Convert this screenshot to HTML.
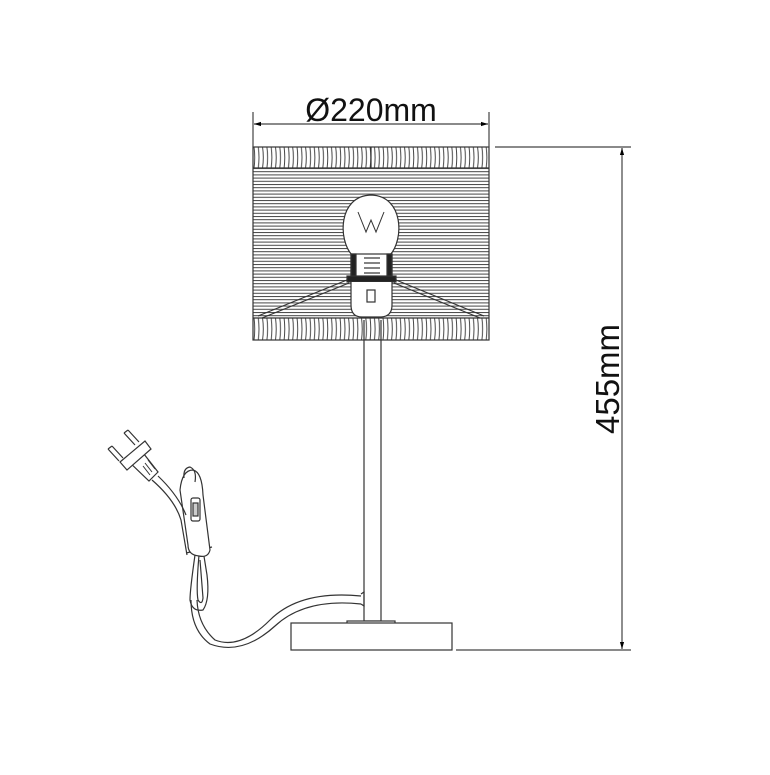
<!DOCTYPE html>
<html><head><style>html,body{margin:0;padding:0;background:#fff}</style></head>
<body>
<svg width="770" height="770" viewBox="0 0 770 770" xmlns="http://www.w3.org/2000/svg">
<defs>
<pattern id="hl" width="10" height="3.2" patternUnits="userSpaceOnUse" y="168"><line x1="0" y1="0.5" x2="10" y2="0.5" stroke="#444" stroke-width="1"/></pattern>
<pattern id="vl1" width="4.3" height="21" patternUnits="userSpaceOnUse" x="253" y="147"><path d="M1 0 Q2.4 10.5 1 21" stroke="#333" stroke-width="0.9" fill="none"/></pattern>
<pattern id="vl2" width="4.3" height="22" patternUnits="userSpaceOnUse" x="253" y="318"><path d="M1 0 Q2.4 11 1 22" stroke="#333" stroke-width="0.9" fill="none"/></pattern>
<marker id="ar" viewBox="0 0 10 10" refX="10" refY="5" markerWidth="14" markerHeight="7" orient="auto-start-reverse" markerUnits="userSpaceOnUse"><path d="M0 2 L10 5 L0 8 Z" fill="#000"/></marker>
</defs>
<g fill="none" stroke="#333" stroke-width="1.2">
<rect x="253" y="168" width="236" height="150" fill="url(#hl)" stroke="none"/>
<rect x="253" y="147" width="236" height="21" fill="url(#vl1)" stroke="none"/>
<rect x="253" y="318" width="236" height="22" fill="url(#vl2)" stroke="none"/>
<line x1="253" y1="168" x2="489" y2="168"/>
<line x1="253" y1="318" x2="489" y2="318"/>
<line x1="371" y1="147" x2="371" y2="168"/>
<rect x="253" y="147" width="236" height="193"/>
<path d="M352 255 C338 240 338 196 371 195 C404 196 404 240 390 255 Z" fill="#fff"/>
<path d="M358 212 L366 232 L371 220 L376 232 L384 212" stroke-width="1"/>
<rect x="351" y="254" width="41" height="24" fill="#fff"/>
<rect x="351" y="254" width="5" height="24" fill="#222"/>
<rect x="387" y="254" width="5" height="24" fill="#222"/>
<line x1="364" y1="258" x2="380" y2="258"/><line x1="364" y1="263" x2="380" y2="263"/><line x1="364" y1="268" x2="380" y2="268"/><line x1="364" y1="273" x2="380" y2="273"/>
<rect x="347" y="276" width="49" height="6" fill="#222"/>
<path d="M351 282 L351 305 Q351 317 362 317 L380 317 Q392 317 392 305 L392 282" fill="#fff"/>
<rect x="367" y="290" width="8" height="12"/>
<path d="M347 280 L258 316 M349 283 L262 318 M396 280 L484 316 M394 283 L480 318"/>
<rect x="364" y="340" width="17" height="281" fill="#fff"/>
<line x1="364" y1="340" x2="364" y2="320"/><line x1="381" y1="340" x2="381" y2="320"/>
<rect x="347" y="621" width="48" height="3" fill="#fff"/>
<rect x="291" y="623" width="161" height="27" fill="#fff"/>
<path d="M361 596 Q300 590 270 620 Q240 650 215 640 Q198 625 197 600" stroke-width="1.2"/>
<path d="M361 604 Q305 598 275 626 Q242 656 210 644 Q191 630 191 600"/>
<path d="M361 594 L364 592 L364 606 L361 604"/>
<path d="M195 555 Q190 590 190 600 Q192 612 203 610 Q210 600 207 575 L203 550"/>
<path d="M199 555 Q196 590 198 600 Q202 606 203 598 L200 560"/>
<path d="M186 553 L212 547"/>
<path d="M180 490 Q182 470 193 470 Q202 472 203 495 L210 550 Q208 558 199 556 Q188 555 188 545 Z" fill="#fff"/>
<path d="M184 478 Q183 468 190 467 Q197 470 195 482" />
<rect x="191" y="498" width="9" height="23" rx="2"/>
<rect x="193" y="503" width="5" height="13" fill="#ccc"/>
<path d="M152 480 Q175 500 181 520 L187 555"/>
<path d="M158 476 Q178 495 186 515"/>
<path d="M126 459 L140 449 L158 472 L149 481 Z" fill="#fff"/>
<path d="M120 462 L145 441 L151 449 L127 470 Z" fill="#fff"/>
<path d="M108 449 L119 461 M112 446 L123 458 M108 449 L112 446"/>
<path d="M124 433 L135 445 M128 430 L139 442 M124 433 L128 430"/>
<path d="M145 463 L152 472 M148 460 L155 469 M143 466 L150 475" stroke-width="1"/>
</g>
<g stroke="#444" stroke-width="1.2" fill="none">
<line x1="253" y1="112" x2="253" y2="147"/>
<line x1="489" y1="112" x2="489" y2="147"/>
<line x1="254" y1="124" x2="488" y2="124" marker-start="url(#ar)" marker-end="url(#ar)"/>
<line x1="495" y1="147" x2="631" y2="147"/>
<line x1="456" y1="650" x2="631" y2="650"/>
<line x1="622" y1="148" x2="622" y2="649" marker-start="url(#ar)" marker-end="url(#ar)"/>
</g>
<text x="371" y="121" font-family="Liberation Sans, sans-serif" font-size="32" text-anchor="middle" fill="#111">Ø220mm</text>
<text transform="translate(619,379) rotate(-90)" font-family="Liberation Sans, sans-serif" font-size="33" text-anchor="middle" fill="#111">455mm</text>
</svg>
</body></html>
